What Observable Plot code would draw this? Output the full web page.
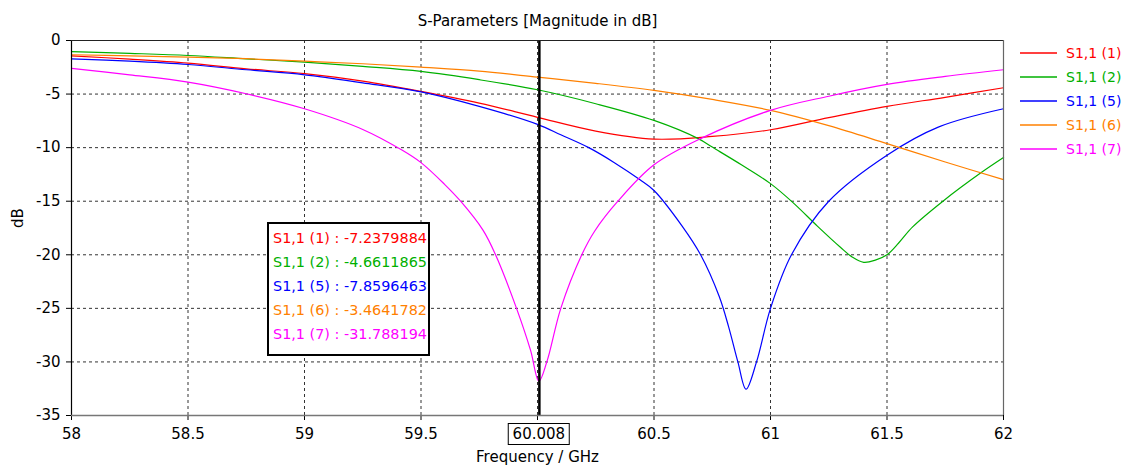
<!DOCTYPE html>
<html><head><meta charset="utf-8">
<script src="https://cdn.jsdelivr.net/npm/d3@7"></script>
<script src="https://cdn.jsdelivr.net/npm/@observablehq/plot@0.6"></script>
<style>
body{margin:0;background:#fff;}
#wrap{position:relative;width:1125px;height:469px;font-family:"DejaVu Sans",Verdana,sans-serif;overflow:hidden;}
.legend{position:absolute;left:1015px;top:41px;}
.readout{position:absolute;left:267px;top:222px;width:159px;height:128px;border:2px solid #000;background:#fff;padding-top:2px;box-sizing:content-box;font-size:14.4px;}
.readout div{height:24px;line-height:24px;padding-left:4px;white-space:nowrap;}
.mk{position:absolute;top:423px;height:20px;border:1px solid #000;background:#fff;font-size:15px;line-height:20px;padding:0 4px;transform:translateX(-50%);white-space:nowrap;}
</style></head><body><div id="wrap"></div>
<script>
// ---- data ----
const seriesNames = ["S1,1 (1)", "S1,1 (2)", "S1,1 (5)", "S1,1 (6)", "S1,1 (7)"];
const seriesColors = ["#ff0000", "#00b000", "#0000ff", "#ff8000", "#ff00ff"];

const freq1 = [58,58.25,58.5,58.75,59,59.25,59.5,59.75,60,60.25,60.5,60.75,61,61.25,61.5,61.75,62];
const s11_1 = [-1.43,-1.74,-2.11,-2.64,-3.1,-3.79,-4.75,-5.84,-7.17,-8.45,-9.2,-8.95,-8.33,-7.2,-6.15,-5.3,-4.41];

const freq2 = [58,58.25,58.5,58.75,59,59.25,59.5,59.75,60,60.25,60.5,60.69,60.75,60.875,61,61.1,61.2,61.3,61.35,61.4,61.45,61.5,61.55,61.61,61.74,61.9,62];
const s11_2 = [-1.03,-1.2,-1.4,-1.71,-2.02,-2.42,-2.89,-3.66,-4.6,-5.9,-7.46,-9.16,-9.95,-11.6,-13.36,-15.2,-17.3,-19.3,-20.2,-20.7,-20.5,-20.0,-18.9,-17.4,-15.0,-12.4,-10.93];

const freq5 = [58,58.25,58.5,58.75,59,59.25,59.5,59.75,60,60.1,60.22,60.33,60.44,60.5,60.62,60.7,60.78,60.82,60.86,60.895,60.94,61,61.09,61.25,61.5,61.72,62];
const s11_5 = [-1.71,-1.93,-2.24,-2.73,-3.2,-3.95,-4.8,-6.15,-7.83,-8.8,-10.0,-11.4,-13.0,-14.0,-17.3,-20,-23.9,-26.7,-30,-32.55,-30,-25,-20,-15,-10.7,-8.08,-6.37];

const freq6 = [58,58.25,58.5,58.75,59,59.25,59.5,59.75,60,60.25,60.5,60.75,61,61.25,61.5,61.75,62];
const s11_6 = [-1.33,-1.43,-1.55,-1.7,-1.93,-2.17,-2.49,-2.86,-3.42,-4.0,-4.66,-5.5,-6.52,-7.95,-9.63,-11.34,-12.98];

const freq7 = [58,58.25,58.5,58.75,59,59.25,59.42,59.5,59.6,59.67,59.766,59.82,59.91,59.97,60.006,60.04,60.1,60.19,60.245,60.345,60.5,60.7,61,61.25,61.5,61.75,62];
const s11_7 = [-2.61,-3.2,-3.88,-4.97,-6.37,-8.3,-10.25,-11.4,-13.4,-15.0,-17.7,-20,-25,-28.9,-31.8,-30,-25,-20,-17.8,-15,-11.6,-9.16,-6.52,-5.2,-4.1,-3.35,-2.73];

const markerFreq = 60.008;
const markerValues = ["-7.2379884", "-4.6611865", "-7.8596463", "-3.4641782", "-31.788194"];

const xTicks = [58,58.5,59,59.5,60,60.5,61,61.5,62];
const yTicks = [0,-5,-10,-15,-20,-25,-30,-35];
const xDomain = [58, 62];
const yDomain = [-35, 0];
const titleText = "S-Parameters [Magnitude in dB]";
const xLabel = "Frequency / GHz";
const yLabel = "dB";

// ---- build ----
const freqs = [freq1, freq2, freq5, freq6, freq7];
const vals = [s11_1, s11_2, s11_5, s11_6, s11_7];
const tables = freqs.map((fs, i) => fs.map((f, j) => ({f, v: vals[i][j]})));

const gridStyle = {stroke: "#333", strokeOpacity: 1, strokeDasharray: "3,3"};

const plot = Plot.plot({
  width: 1125, height: 469,
  marginLeft: 71, marginRight: 122, marginTop: 40, marginBottom: 54,
  style: {fontFamily: "'DejaVu Sans', Verdana, sans-serif", fontSize: "15px", background: "white", color: "#000"},
  x: {domain: xDomain},
  y: {domain: yDomain},
  marks: [
    Plot.gridX(xTicks, gridStyle),
    Plot.gridY(yTicks, gridStyle),
    Plot.axisX(xTicks, {tickSize: 5, tickPadding: 8, tickFormat: d => d === 60 ? "" : String(d), label: null, fontSize: 15}),
    Plot.axisY(yTicks, {tickSize: 5, tickPadding: 6, tickFormat: d => String(d), label: null, fontSize: 15}),
    ...tables.map((t, i) => Plot.line(t, {x: "f", y: "v", stroke: seriesColors[i], strokeWidth: 1.2, curve: "catmull-rom"})),
    Plot.ruleX([markerFreq], {stroke: "#000", strokeWidth: 2.5}),
    Plot.ruleX([xDomain[0]], {stroke: "#000", strokeWidth: 1.2}),
    Plot.ruleY([yDomain[1]], {stroke: "#222", strokeWidth: 1.2}),
    Plot.ruleX([xDomain[1]], {stroke: "#666", strokeWidth: 1.2}),
    Plot.ruleY([yDomain[0]], {stroke: "#777", strokeWidth: 1.5}),
    Plot.text([titleText], {text: d => d, frameAnchor: "top", dy: -25, fontSize: 15}),
    Plot.text([xLabel], {text: d => d, frameAnchor: "bottom", dy: 46, fontSize: 15}),
    Plot.text([yLabel], {text: d => d, frameAnchor: "left", dx: -53, rotate: -90, fontSize: 15})
  ]
});

const wrap = document.getElementById("wrap");
wrap.appendChild(plot);

// legend (inline SVG so the swatch strokes keep their colours)
const legDiv = document.createElement("div");
legDiv.className = "legend";
wrap.appendChild(legDiv);
const legSvg = d3.select(legDiv).append("svg")
  .attr("width", 110).attr("height", 130)
  .style("font-family", "'DejaVu Sans', Verdana, sans-serif")
  .style("font-size", "14px");
const rows = legSvg.selectAll("g").data(seriesNames).join("g")
  .attr("transform", (d, i) => `translate(0,${12 + i * 24})`);
rows.append("line")
  .attr("x1", 5).attr("x2", 42).attr("y1", 0).attr("y2", 0)
  .attr("stroke", (d, i) => seriesColors[i]).attr("stroke-width", 1.6);
rows.append("text")
  .attr("x", 51).attr("y", 0).attr("dy", "0.35em")
  .attr("fill", (d, i) => seriesColors[i])
  .text(d => d);

// marker readout box
const ro = document.createElement("div");
ro.className = "readout";
seriesNames.forEach((n, i) => {
  const d = document.createElement("div");
  d.style.color = seriesColors[i];
  d.textContent = n + " : " + markerValues[i];
  ro.appendChild(d);
});
wrap.appendChild(ro);

// marker frequency label
const mk = document.createElement("div");
mk.className = "mk";
mk.textContent = markerFreq.toFixed(3);
mk.style.left = plot.scale("x").apply(markerFreq) + "px";
wrap.appendChild(mk);
</script></body></html>
